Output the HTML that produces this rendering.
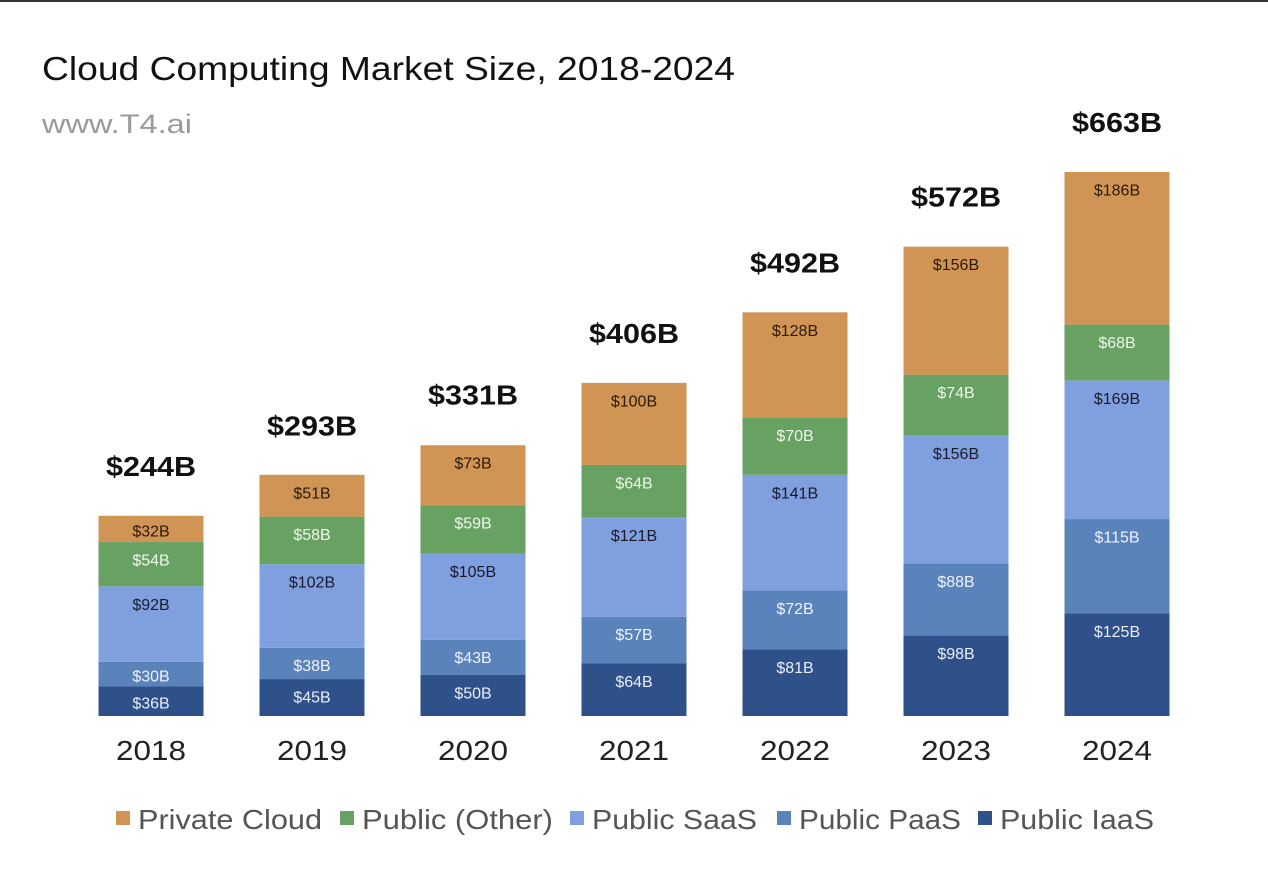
<!DOCTYPE html>
<html><head><meta charset="utf-8"><style>
body{margin:0;background:#fff;width:1268px;height:879px;overflow:hidden;font-family:"Liberation Sans",sans-serif}
</style></head><body>
<svg id="chart" width="1268" height="879" xmlns="http://www.w3.org/2000/svg">
<rect x="0" y="0" width="1268" height="2" fill="#333"/>
<text x="42" y="80" font-size="33" fill="#111" textLength="693" lengthAdjust="spacingAndGlyphs">Cloud Computing Market Size, 2018-2024</text>
<text x="42" y="133" font-size="27" fill="#9a9a9a" textLength="150" lengthAdjust="spacingAndGlyphs">www.T4.ai</text>
<g id="bars"></g>
<g id="legend"></g>
</svg>
<script>
const years=["2018","2019","2020","2021","2022","2023","2024"];
const iaas=[36,45,50,64,81,98,125];
const paas=[30,38,43,57,72,88,115];
const saas=[92,102,105,121,141,156,169];
const other=[54,58,59,64,70,74,68];
const priv=[32,51,73,100,128,156,186];
const totals=[244,293,331,406,492,572,663];
const seriesNames=["Private Cloud","Public (Other)","Public SaaS","Public PaaS","Public IaaS"];
const NS="http://www.w3.org/2000/svg";
const base=716, scale=544/663, x0=151, step=161, bw=105;
const yOf=v=>base-v*scale;
const xOf=i=>x0+i*step;
const series=[
 {key:"iaas",vals:iaas,color:"#2f5189",tc:"#e8eefa"},
 {key:"paas",vals:paas,color:"#5a82bb",tc:"#eef3fb"},
 {key:"saas",vals:saas,color:"#7f9fde",tc:"#1a1a2a"},
 {key:"other",vals:other,color:"#68a263",tc:"#eef6ec"},
 {key:"private",vals:priv,color:"#d09455",tc:"#2a1a0a"}];
const g=document.getElementById('bars');
function mk(tag,attrs,txt){const e=document.createElementNS(NS,tag);for(const k in attrs)e.setAttribute(k,attrs[k]);if(txt!==undefined)e.textContent=txt;return e;}
years.forEach((yr,i)=>{
  let cum=0;const cx=xOf(i);
  series.forEach(s=>{
    const v=s.vals[i];const yTop=yOf(cum+v),yBot=yOf(cum);cum+=v;
    const r=mk('rect',{x:cx-bw/2,y:yTop,width:bw,height:yBot-yTop,fill:s.color});
    
    
    g.appendChild(r);
    const h=yBot-yTop;
    const t=mk('text',{x:cx,y:yTop+Math.min(19,h/2+3),'font-size':16,fill:s.tc,'text-anchor':'middle','dominant-baseline':'central'},'$'+v+'B');
    
    
    g.appendChild(t);
  });
  const tt=mk('text',{x:cx,y:yOf(totals[i])-40,'font-size':28,'font-weight':'bold',fill:'#111','text-anchor':'middle',textLength:90,lengthAdjust:'spacingAndGlyphs'},'$'+totals[i]+'B');
  
  
  g.appendChild(tt);
  const xl=mk('text',{x:cx,y:760,'font-size':28,fill:'#222','text-anchor':'middle',textLength:70,lengthAdjust:'spacingAndGlyphs'},yr);
  
  
  g.appendChild(xl);
});
const lg=document.getElementById('legend');
const legX=[116,340,570,777,978];
const legW=[184,191,165,162,154];
const legColors=["#d09455","#68a263","#7f9fde","#5a82bb","#2f5189"];
seriesNames.forEach((n,i)=>{
  const sq=mk('rect',{x:legX[i],y:811,width:14,height:14,fill:legColors[i]});
  
  
  lg.appendChild(sq);
  const t=mk('text',{x:legX[i]+22,y:829,'font-size':28,fill:'#555',textLength:legW[i],lengthAdjust:'spacingAndGlyphs'},n);
  
  
  lg.appendChild(t);
});
</script>
</body></html>
